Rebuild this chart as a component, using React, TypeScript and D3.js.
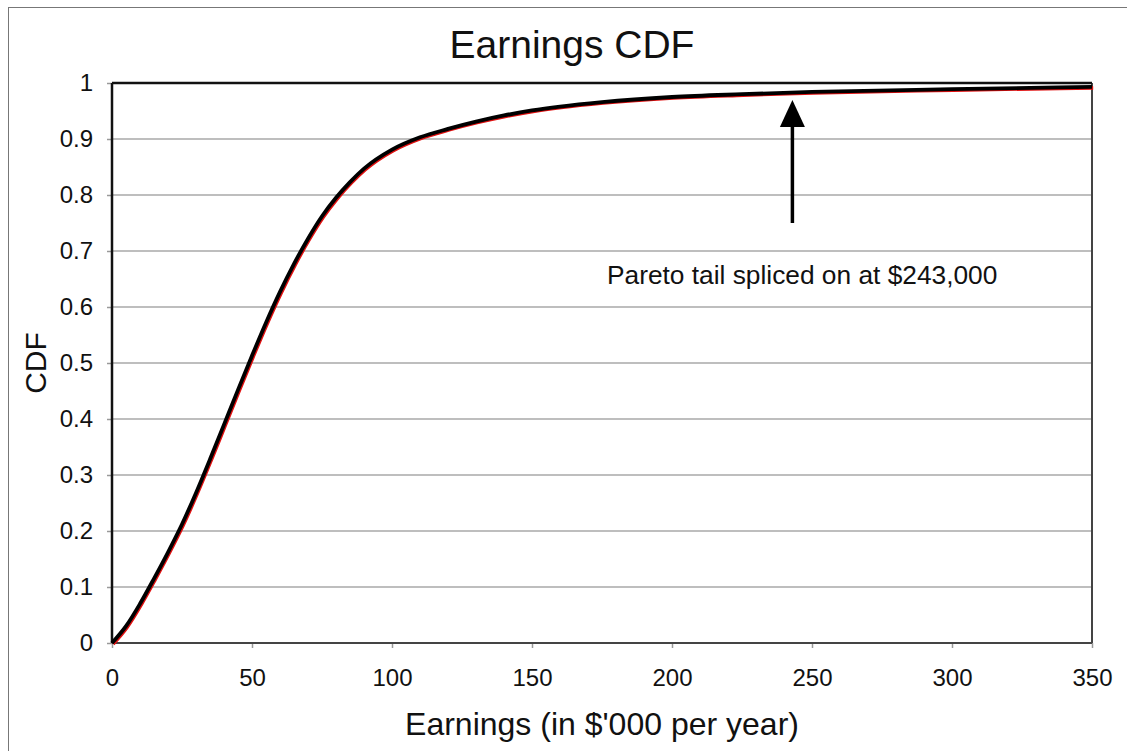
import { useEffect, useRef } from "react"
import * as d3 from "d3"

// earnings in $'000 per year and the CDF value
const earnings = [0, 5, 10, 15, 20, 25, 30, 35, 40, 45, 50, 55, 60, 65, 70, 75, 80, 85, 90, 100, 110, 120, 130, 140, 150, 160, 175, 200, 225, 250, 300, 350]
const cdf = [0, 0.03, 0.07, 0.115, 0.162, 0.212, 0.268, 0.328, 0.39, 0.452, 0.513, 0.572, 0.627, 0.677, 0.722, 0.762, 0.795, 0.823, 0.847, 0.881, 0.903, 0.918, 0.931, 0.942, 0.951, 0.958, 0.966, 0.975, 0.98, 0.984, 0.989, 0.993]

const xTicks = [0, 50, 100, 150, 200, 250, 300, 350]
const yTicks = [0, 0.1, 0.2, 0.3, 0.4, 0.5, 0.6, 0.7, 0.8, 0.9, 1]

const spliceAt = 243
const title = "Earnings CDF"
const xLabel = "Earnings (in $'000 per year)"
const yLabel = "CDF"
const note = "Pareto tail spliced on at $243,000"

export default function App() {
    const svgRef = useRef<SVGSVGElement>(null)
    const width = 1127, height = 751

    useEffect(() => {
        const margin = { top: 83, right: 35, bottom: 108, left: 112 },
            wt = width - margin.left - margin.right,
            ht = height - margin.top - margin.bottom

        d3.select(svgRef.current).selectAll("*").remove()

        const root = d3.select(svgRef.current)
            .attr("width", width)
            .attr("height", height)
            .style("font-family", "'Liberation Sans', Arial, sans-serif")

        // outer frame of the figure
        root.append("rect")
            .attr("x", 8.5).attr("y", 7.5)
            .attr("width", width + 20).attr("height", height + 20)
            .attr("fill", "white")
            .attr("stroke", "#777")
            .attr("stroke-width", 1)

        const svg = root.append("g")
            .attr("transform", `translate(${margin.left},${margin.top})`)

        const x = d3.scaleLinear().domain([0, 350]).range([0, wt])
        const y = d3.scaleLinear().domain([0, 1]).range([ht, 0])

        // gridlines
        svg.append("g")
            .selectAll("line")
            .data(yTicks.slice(1, -1))
            .join("line")
                .attr("x1", 0).attr("x2", wt)
                .attr("y1", d => y(d)).attr("y2", d => y(d))
                .attr("stroke", "#a8a8a8")
                .attr("stroke-width", 1.6)

        const xAxis = svg.append("g")
            .attr("transform", `translate(0, ${ht})`)
            .call(d3.axisBottom(x).tickValues(xTicks).tickSize(5).tickPadding(21).tickFormat(d => String(d)))
        xAxis.select(".domain").remove()
        xAxis.selectAll("line").attr("stroke", "#999").attr("stroke-width", 1.5)
        xAxis.selectAll("text").attr("font-size", 24).attr("fill", "#111").attr("font-family", "'Liberation Sans', Arial, sans-serif")

        const yAxis = svg.append("g")
            .call(d3.axisLeft(y).tickValues(yTicks).tickSize(5).tickPadding(14).tickFormat(d => String(d)))
        yAxis.select(".domain").remove()
        yAxis.selectAll("line").attr("stroke", "#999").attr("stroke-width", 1.5)
        yAxis.selectAll("text").attr("font-size", 24).attr("fill", "#111").attr("font-family", "'Liberation Sans', Arial, sans-serif")

        // plot frame
        svg.append("line").attr("x1", wt).attr("x2", wt).attr("y1", 0).attr("y2", ht)
            .attr("stroke", "#444").attr("stroke-width", 2)
        svg.append("line").attr("x1", 0).attr("x2", wt).attr("y1", ht).attr("y2", ht)
            .attr("stroke", "#444").attr("stroke-width", 2)
        svg.append("line").attr("x1", 0).attr("x2", wt).attr("y1", 0).attr("y2", 0)
            .attr("stroke", "#111").attr("stroke-width", 2.5)
        svg.append("line").attr("x1", 0).attr("x2", 0).attr("y1", 0).attr("y2", ht)
            .attr("stroke", "#111").attr("stroke-width", 2.5)

        const data = earnings.map((e, i) => ({ e, p: cdf[i] }))
        const line = d3.line<{ e: number, p: number }>()
            .x(d => x(d.e))
            .y(d => y(d.p))
            .curve(d3.curveMonotoneX)

        // red series sits just under the black one
        svg.append("path")
            .datum(data)
            .attr("d", line)
            .attr("transform", "translate(1.2,1)")
            .attr("fill", "none")
            .attr("stroke", "#e01010")
            .attr("stroke-width", 3.5)

        svg.append("path")
            .datum(data)
            .attr("d", line)
            .attr("fill", "none")
            .attr("stroke", "#000")
            .attr("stroke-width", 3.8)

        // arrow to the splice point
        const ax = x(spliceAt)
        const tipY = y(0.982) + 7
        svg.append("line")
            .attr("x1", ax).attr("x2", ax)
            .attr("y1", tipY + 20).attr("y2", y(0.75))
            .attr("stroke", "#000").attr("stroke-width", 3.5)
        svg.append("path")
            .attr("d", `M${ax},${tipY} L${ax - 12.5},${tipY + 27} L${ax + 12.5},${tipY + 27} Z`)
            .attr("fill", "#000")

        svg.append("text")
            .attr("x", 607 - margin.left)
            .attr("y", 284 - margin.top)
            .attr("font-size", 26.3)
            .attr("fill", "#111")
            .text(note)

        // x-axis label
        svg.append("text")
            .attr("text-anchor", "middle")
            .attr("x", wt / 2)
            .attr("y", 735 - margin.top)
            .attr("font-size", 32)
            .attr("fill", "#111")
            .text(xLabel)

        // y-axis label
        svg.append("text")
            .attr("text-anchor", "middle")
            .attr("transform", "rotate(-90)")
            .attr("y", 46 - margin.left)
            .attr("x", -(363 - margin.top))
            .attr("font-size", 30)
            .attr("fill", "#111")
            .text(yLabel)

        // title
        root.append("text")
            .attr("x", 572)
            .attr("y", 58)
            .attr("text-anchor", "middle")
            .attr("font-size", 39)
            .attr("fill", "#111")
            .text(title)
    }, [])

    return (
        <svg ref={svgRef} style={{ position: "absolute", left: 0, top: 0, display: "block" }}></svg>
    )
}
